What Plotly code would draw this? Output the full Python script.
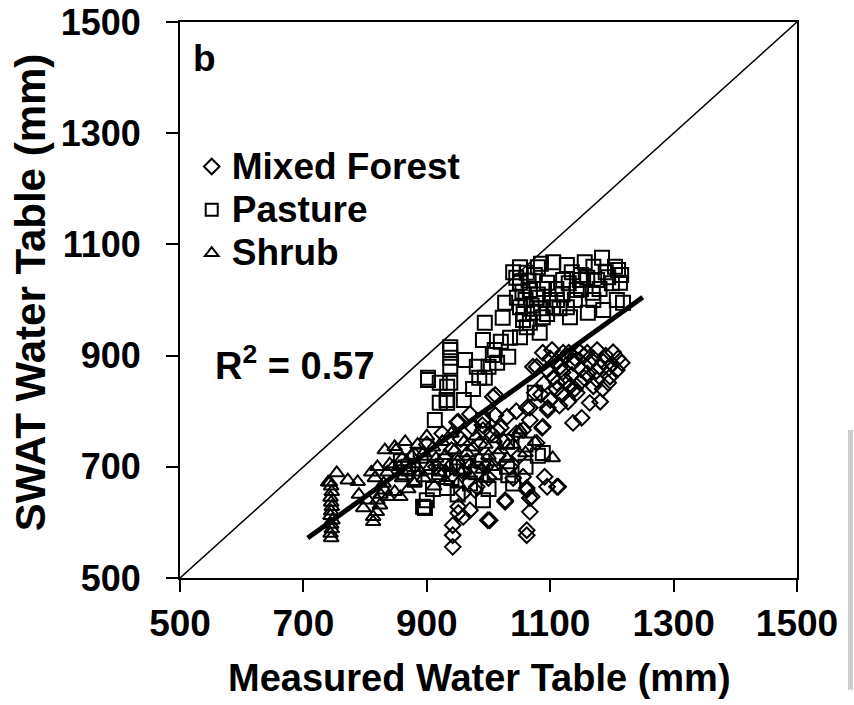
import plotly.graph_objects as go

# ---------------- data ----------------
forest_x = [1088,1103,1121,1148,1176,1202,1216,1078,1095,1116,1137,1164,1186,1208,1111,1132,1148,1176,1197,1194,
            1129,1143,1164,1181,1137,1151,1067,1075,1096,1072,1007,1011,991,1087,1067,1056,1078,1091,1113,1095,
            1062,1067,1067,1027,1002,1062,
            1100,1110,1125,1140,1155,1170,1190,1210,1120,1135,1150,1160,1175,1195,1105,1125,1155,1170,1140,1120,
            1090,1085,1100,1110,1185,1200,1180,1130,1160,1115,
            1011,1011,951,1062,1096,1088,1056,1111,1062,1070,1027,999,1062,951,970,959,942,942,942,951,959,978,981,1014,991,
            880,900,915,925,940,955,965,975,985,995,1005,1015,1025,1035,1045,1000,960,930,1050,1040,1020,990,970,949,1030,1045]
forest_y = [905,910,905,906,910,906,887,880,874,880,887,887,889,874,851,844,851,856,862,851,
            817,833,815,817,779,788,806,833,802,880,826,793,784,770,784,766,743,682,664,664,
            658,644,619,637,604,586,
            895,890,898,895,900,895,900,895,870,865,875,868,872,878,860,855,860,845,840,830,
            850,830,820,840,840,885,880,905,905,810,
            829,793,781,806,806,772,682,664,662,646,640,604,577,628,622,610,595,577,556,617,653,658,664,766,766,
            720,740,700,760,730,750,710,770,740,700,760,720,745,700,760,680,690,690,720,680,770,775,795,780,790,800]

pasture_x = [902,938,938,938,962,981,994,991,994,1014,1007,1023,1027,1032,1035,1051,1051,1051,1056,1062,
             1067,1072,1080,1083,1105,1127,1095,1111,1121,1132,1143,1156,1161,1169,1184,1186,1194,1210,1213,1208,
             1218,1105,1046,1067,1078,1148,1176,1127,1088,1062,1051,
             1060,1070,1080,1090,1100,1110,1120,1130,1140,1150,1160,1170,1180,1190,1200,1045,1055,1065,1075,1085,
             1095,1115,1135,1150,1170,1205,1215,1057,1040,1085,
             902,938,962,933,921,933,913,900,894,933,991,932,938,921,991,1032,1030,1075,1088,897,949,
             960,975,985,1000,1010,1020,
             870,880,890,900,910,920,930,940,950,960,970,980,990,1000,1010,1030,1040,1060,1080,858,865,1060]
pasture_y = [860,910,896,880,892,880,959,928,860,887,901,968,995,898,932,1059,1031,987,964,1049,
             1018,977,1059,941,1068,1063,1031,1000,1036,969,1018,1068,977,1013,1076,982,1041,1054,1031,1000,
             995,987,1004,959,1004,1036,1036,987,969,951,933,
             1000,990,1010,1020,1000,1020,1010,1030,1000,1020,1040,1000,1020,1050,1030,1040,1015,1035,1045,985,
             975,985,1050,1045,1060,1060,1045,975,1050,1065,
             856,915,892,844,815,815,784,640,628,662,784,820,851,851,640,685,745,833,725,626,700,
             820,840,860,880,910,925,
             700,680,720,700,660,690,710,680,650,700,670,690,710,660,690,700,670,700,720,710,690,740]

shrub_x = [745,744,746,745,747,744,745,746,745,744,746,745,743,
           850,855,860,865,870,875,880,885,890,895,900,905,910,915,920,925,930,935,940,945,950,955,960,965,
           970,975,980,985,990,995,1000,1005,1010,1020,1030,1040,1050,1060,1075,1104,994,860,870,880,895,912,
           930,950,970,845,840,836,832,848,820,810,816,797,813,813,805,825,830,820,790,788,772,754,740,
           832,837,848,857,824,819,1031,1051]
shrub_y = [572,580,588,596,604,612,620,628,636,645,655,665,672,
           730,700,715,745,690,720,705,740,690,725,755,700,735,715,690,745,720,700,760,730,710,690,745,725,
           705,735,755,715,695,740,720,700,750,730,715,740,760,725,745,716,680,680,660,670,680,665,
           675,670,685,700,705,690,730,736,700,690,680,626,610,601,640,650,670,640,650,673,676,689,672,
           658,646,655,646,631,619,739,766]

line_x = [707, 1250]          # regression line end points
line_y = [572, 1005]
one_x = [500, 1500]           # 1:1 line
one_y = [500, 1500]

x_ticks = [500, 700, 900, 1100, 1300, 1500]
y_ticks = [500, 700, 900, 1100, 1300, 1500]

FONT = "Liberation Sans, Arial, sans-serif"

fig = go.Figure()

fig.add_trace(go.Scatter(x=one_x, y=one_y, mode="lines", line=dict(color="black", width=1.5),
                         showlegend=False, hoverinfo="skip"))

def mk(symbol, size):
    return dict(symbol=symbol, size=size, color="black", line=dict(color="black", width=2))

fig.add_trace(go.Scatter(x=forest_x, y=forest_y, mode="markers", name='<span style="font-size:37px">Mixed Forest</span>',
                         marker=mk("diamond-open", 12)))
fig.add_trace(go.Scatter(x=pasture_x, y=pasture_y, mode="markers", name='<span style="font-size:37px">Pasture</span>',
                         marker=mk("square-open", 14)))
fig.add_trace(go.Scatter(x=shrub_x, y=shrub_y, mode="markers", name='<span style="font-size:37px">Shrub</span>',
                         marker=mk("triangle-up-open", 13)))

fig.add_trace(go.Scatter(x=line_x, y=line_y, mode="lines", line=dict(color="black", width=5),
                         showlegend=False, hoverinfo="skip"))

axis_common = dict(showgrid=False, zeroline=False, showline=True, linecolor="black", linewidth=2,
                   mirror=True, ticks="outside", ticklen=12, tickwidth=2, tickcolor="black")

fig.update_xaxes(range=[500, 1500], tickvals=x_ticks, ticktext=[str(v) for v in x_ticks],
                 tickfont=dict(family=FONT, size=37, color="black", weight="bold"),
                 ticklabelstandoff=0, **axis_common)
fig.update_yaxes(range=[500, 1500], tickvals=y_ticks, ticktext=[str(v) for v in y_ticks],
                 tickfont=dict(family=FONT, size=36, color="black", weight="bold"),
                 ticklabelstandoff=18, **axis_common)

fig.add_annotation(text="Measured Water Table (mm)", xref="paper", yref="paper", x=0.486, y=-0.18,
                   xanchor="center", yanchor="middle",
                   showarrow=False, font=dict(family=FONT, size=38, color="black", weight="bold"))
fig.add_annotation(text="SWAT Water Table (mm)", xref="paper", yref="paper", x=-0.243, y=0.514,
                   xanchor="center", yanchor="middle",
                   textangle=-90, showarrow=False, font=dict(family=FONT, size=42, color="black", weight="bold"))
fig.add_annotation(text="b", xref="paper", yref="paper", x=0.0405, y=0.935, showarrow=False,
                   xanchor="center", yanchor="middle",
                   font=dict(family=FONT, size=37, color="black", weight="bold"))
fig.add_annotation(text="R<sup>2</sup> = 0.57", xref="paper", yref="paper", x=0.186, y=0.387, showarrow=False,
                   xanchor="center", yanchor="middle",
                   font=dict(family=FONT, size=38, color="black", weight="bold"))

fig.add_shape(type="rect", xref="paper", yref="paper", x0=1.0826, x1=1.0908, y0=-0.201, y1=0.266,
              fillcolor="#cccccc", line=dict(width=0))

fig.update_layout(
    width=854, height=705,
    margin=dict(l=180, r=57, t=22, b=127, autoexpand=False),
    paper_bgcolor="white", plot_bgcolor="white",
    showlegend=True,
    legend=dict(x=0.019, y=0.788, xanchor="left", yanchor="top", bgcolor="rgba(0,0,0,0)",
                font=dict(family=FONT, size=31, color="black", weight="bold"),
                itemsizing="constant", tracegroupgap=0),
)

fig.write_html("out.html")
